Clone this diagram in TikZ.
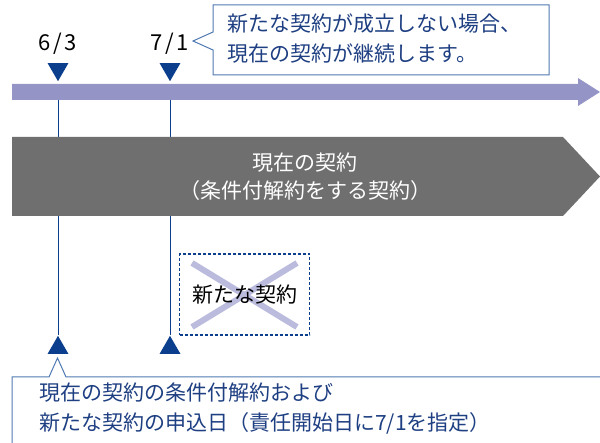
\documentclass[tikz,border=0pt]{standalone}
\usepackage{fontspec}
\setmainfont{Noto Sans CJK JP}
\newfontfamily\datefont[LetterSpace=12]{Noto Sans CJK JP}
\usepackage{tikz}
\usetikzlibrary{shapes.geometric,positioning}
\definecolor{navy}{HTML}{0B3F8E}
\definecolor{bluetext}{HTML}{1E3F82}
\definecolor{calloutline}{HTML}{5079B2}
\definecolor{barpurple}{HTML}{9495C6}
\definecolor{crosspurple}{HTML}{BBBCDD}
\definecolor{contractgray}{HTML}{6E6F6E}
\tikzset{
    marker/.style={regular polygon,
        regular polygon sides=3,
        fill=navy,
        inner sep=0pt,
        minimum size=24pt},
    downmarker/.style={marker, shape border rotate=180, anchor=north},
    upmarker/.style={marker, anchor=south},
    dateline/.style={draw=navy, line width=1pt},
    callout/.style={draw=calloutline, line width=1pt, fill=white},
    calltext/.style={text=bluetext, align=left, inner sep=0pt, anchor=west}
}

\begin{document}
\begin{tikzpicture}[x=1pt,y=-1pt,
    font=\fontsize{21}{30}\selectfont]
                \useasboundingbox (0,0) rectangle (600,443);
                % Date labels and markers
                \node [font=\datefont\fontsize{22}{22}\selectfont] (d63) at (58,44) {6/3};
                \node [font=\datefont\fontsize{22}{22}\selectfont] (d71) at (170,44) {7/1};
                \node [downmarker] (top63) at (58,63) {};
                \node [downmarker] (top71) at (170,63) {};
                \node [upmarker] (low63) at (58,354) {};
                \node [upmarker] (low71) at (170,354) {};
                % Date lines
                \coordinate (bar63) at (58,100);
                \coordinate (bar71) at (170,100);
                \draw [dateline] (bar63) -- (low63.north);
                \draw [dateline] (bar71) -- (low71.north);
                % Time axis
                \fill [barpurple] (12,84) -- (578,84) -- (578,78)
                    -- (600,92) -- (578,106) -- (578,100) -- (12,100) -- cycle;
                % Current contract
                \fill [contractgray] (12,137) -- (563,137) -- (600,176.5)
                    -- (563,216) -- (12,216) -- cycle;
                \node [text=white,
                    align=center,
                    font=\fontsize{21}{28}\selectfont] (current) at (305,177)
                    {現在の契約\\（条件付解約をする契約）};
                % New contract (not concluded)
                \node [draw=navy,
                    dash pattern=on 3pt off 2pt,
                    line width=1.2pt,
                    minimum width=130pt,
                    minimum height=81pt] (newbox) at (244.5,294.5) {};
                \draw [crosspurple, line width=6pt]
                    (192,263) -- (297,327)
                    (192,327) -- (297,263);
                \node (newtext) at (newbox.center) {新たな契約};
                % Upper callout
                \draw [callout] (213,5) -- (549,5) -- (549,75) -- (213,75)
                    -- (213,50) -- (193,41) -- (213,32) -- cycle;
                \node [calltext] (upnote) at (227,39)
                    {新たな契約が成立しない場合、\\現在の契約が継続します。};
                % Lower callout
                \draw [callout] (600,377) -- (66,377) -- (57.5,358)
                    -- (49,377) -- (12,377) -- (12,444);
                \node [calltext] (lownote) at (39,409)
                    {現在の契約の条件付解約および\\新たな契約の申込日（責任開始日に7/1を指定）};
            \end{tikzpicture}
\end{document}
